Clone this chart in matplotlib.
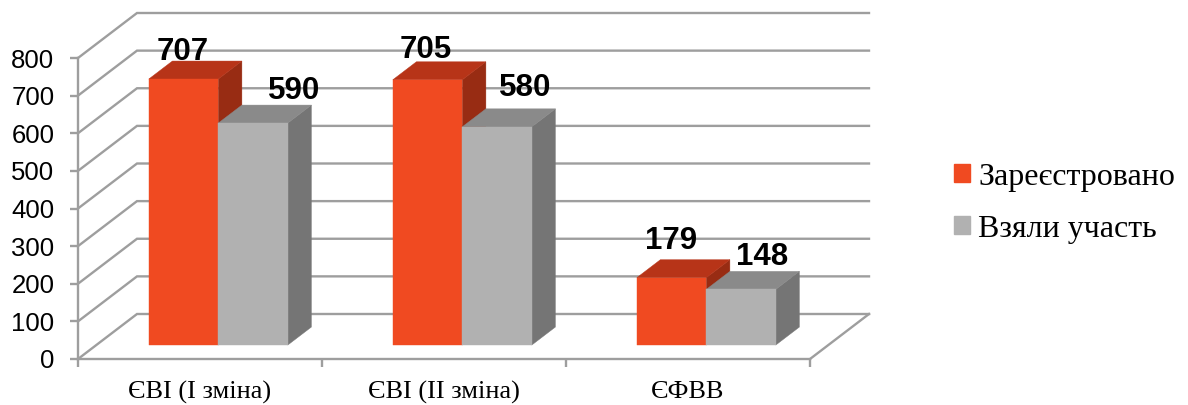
import matplotlib
matplotlib.use('Agg')
import matplotlib.pyplot as plt
from matplotlib.patches import Polygon, Patch

categories = ['ЄВІ (І зміна)', 'ЄВІ (ІІ зміна)', 'ЄФВВ']
registered = [707, 705, 179]
participated = [590, 580, 148]
series_names = ['Зареєстровано', 'Взяли участь']

W, H = 1188, 405
LEFT, RIGHT, BOTTOM, TOP = 78, 810, 359, 58   # front plane in pixels

# depth of the fake 3d box, in data units
DX = 59 / 244
DY = 45 / (301 / 800)
BAR_W = 69.5 / 244
D0, D1 = 0.31, 0.71

GRID = '#9e9e9e'
RED = ('#f04a21', '#b73418', '#982c13')
GREY = ('#b1b1b1', '#8a8a8a', '#757575')


def pr(x, y, d=0):
    return (x + d * DX, y + d * DY)


def bar3d(ax, x, val, cols):
    x2 = x + BAR_W
    front = [pr(x, 0, D0), pr(x2, 0, D0), pr(x2, val, D0), pr(x, val, D0)]
    top = [pr(x, val, D0), pr(x2, val, D0), pr(x2, val, D1), pr(x, val, D1)]
    side = [pr(x2, 0, D0), pr(x2, 0, D1), pr(x2, val, D1), pr(x2, val, D0)]
    for pts, c in zip([side, top, front], [cols[2], cols[1], cols[0]]):
        ax.add_patch(Polygon(pts, closed=True, fc=c, ec=c, lw=0.3, zorder=3, clip_on=False))


plt.rcParams['font.family'] = ['Liberation Sans', 'DejaVu Sans']
fig = plt.figure(figsize=(W / 100, H / 100), dpi=100)
ax = fig.add_axes([LEFT / W, 1 - BOTTOM / H, (RIGHT - LEFT) / W, (BOTTOM - TOP) / H])
ax.set_xlim(0, 3)
ax.set_ylim(0, 800)
ax.patch.set_alpha(0)

for s in ['top', 'right']:
    ax.spines[s].set_visible(False)
for s in ['left', 'bottom']:
    ax.spines[s].set_color(GRID)
    ax.spines[s].set_linewidth(1.7)

yticks = list(range(0, 801, 100))
ax.set_yticks(yticks)
ax.tick_params(axis='y', length=6, width=1.7, color=GRID, labelsize=18.5, pad=11)
ax.set_xticks([0, 1, 2, 3])
ax.set_xticklabels([])
ax.tick_params(axis='x', which='major', length=6, width=1.7, color=GRID)
ax.set_xticks([0.5, 1.5, 2.5], minor=True)
ax.set_xticklabels(categories, minor=True, family=['Liberation Serif'], fontsize=19)
ax.tick_params(axis='x', which='minor', length=0, pad=16)

# walls
for v in yticks:
    xs, ys = zip(pr(0, v), pr(0, v, 1), pr(3, v, 1))
    ax.plot(xs, ys, color=GRID, lw=1.7, zorder=1, clip_on=False, solid_joinstyle='miter')
xs, ys = zip(pr(3, 0), pr(3, 0, 1))
ax.plot(xs, ys, color=GRID, lw=1.7, zorder=1, clip_on=False)

# label offsets from the bar's front-top centre, in pixels
red_off = [(-1, 27), (-2, 30), (0, 37)]
grey_off = [(41, 32), (28, 39), (21, 32)]

for i in range(len(categories)):
    x1 = i + (1 - 2 * BAR_W) / 2
    x2 = x1 + BAR_W
    bar3d(ax, x1, registered[i], RED)
    bar3d(ax, x2, participated[i], GREY)
    for x, v, off in [(x1, registered[i], red_off[i]), (x2, participated[i], grey_off[i])]:
        ax.annotate(str(v), xy=pr(x + BAR_W / 2, v, D0), xytext=off, textcoords='offset pixels',
                    ha='center', va='center', fontsize=22.5, fontweight='bold', color='black',
                    zorder=5, annotation_clip=False)

handles = [Patch(fc=RED[0], ec=RED[0]), Patch(fc=GREY[0], ec=GREY[0])]
fig.legend(handles, series_names, loc='center left', bbox_to_anchor=(954 / W, 1 - 203 / H),
           frameon=False, prop={'family': 'Liberation Serif', 'size': 23},
           handlelength=0.5, handleheight=0.5, handletextpad=0.25, labelspacing=0.72,
           borderpad=0, borderaxespad=0)

fig.savefig('out.png', dpi=100)
